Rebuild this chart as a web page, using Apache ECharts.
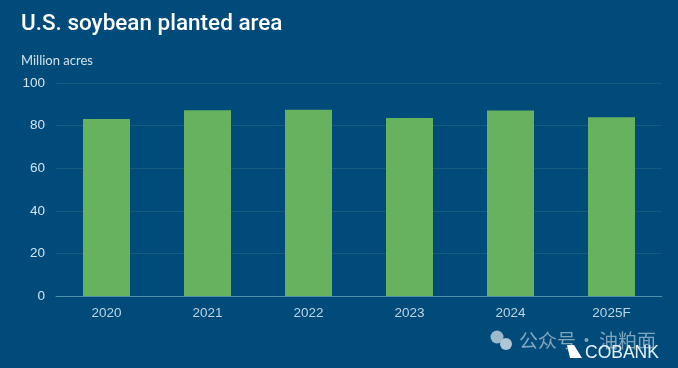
<!DOCTYPE html>
<html><head><meta charset="utf-8">
<style>html,body{margin:0;padding:0;background:#004b7a}#c{width:678px;height:368px}</style>
<script src="https://cdn.jsdelivr.net/npm/echarts@6/dist/echarts.min.js"></script>
</head><body><div id="c"></div>
<script>
const categories = ['2020','2021','2022','2023','2024','2025F'];
const plantedArea = [83.1, 87.2, 87.5, 83.6, 87.1, 83.9];
const titleText = 'U.S. soybean planted area';
const unitText = 'Million acres';
const watermarkA = '公众号';
const watermarkDot = '·';
const watermarkB = '油粕面';
const brandText = 'COBANK';
const chart = echarts.init(document.getElementById('c'), null, {renderer:'canvas'});
chart.setOption({
  animation:false,
  backgroundColor:'#004b7a',
  title:[
    {text:titleText,left:21,top:13,padding:0,textStyle:{color:'#ffffff',fontFamily:'Roboto',fontSize:22.5,fontWeight:500}},
    {text:unitText,left:21,top:54,padding:0,textStyle:{color:'#d3e2ec',fontFamily:'Lato',fontSize:13,fontWeight:400}}
  ],
  grid:{left:56,right:16,top:83,bottom:72},
  xAxis:{type:'category',data:categories,
    axisLine:{lineStyle:{color:'#4f8fae',width:1}},axisTick:{show:false},
    axisLabel:{color:'#bcd4e2',fontFamily:'Liberation Sans',fontSize:13.5,margin:10}},
  yAxis:{type:'value',min:0,max:100,interval:20,
    axisLine:{show:false},axisTick:{show:false},
    axisLabel:{color:'#d3e2ec',fontFamily:'Liberation Sans',fontSize:13.5,margin:11},
    splitLine:{lineStyle:{color:'#165a7e',width:1}}},
  series:[{type:'bar',data:plantedArea,barWidth:47,itemStyle:{color:'#66b25f'}}],
  graphic:[
    {type:'circle',shape:{cx:497,cy:337,r:6.5},style:{fill:'#9db9cc'},silent:true},
    {type:'circle',shape:{cx:506,cy:344,r:6},style:{fill:'#b0c6d5'},silent:true},
    {type:'text',x:519,y:331,style:{text:watermarkA,fill:'#7fa5be',font:'19px "Noto Sans CJK SC"'},silent:true},
    {type:'text',x:577,y:331,style:{text:watermarkDot,fill:'#7fa5be',font:'19px "Noto Sans CJK SC"'},silent:true},
    {type:'text',x:599,y:331,style:{text:watermarkB,fill:'#7fa5be',font:'19px "Noto Sans CJK SC"'},silent:true},
    {type:'polygon',shape:{points:[[567,345],[574,345],[582,358],[570,358]]},style:{fill:'#ffffff'},silent:true},
    {type:'text',x:585,y:344,style:{text:brandText,fill:'#e8f0f5',font:'17.5px "Liberation Sans"'},silent:true}
  ]
});
</script></body></html>
